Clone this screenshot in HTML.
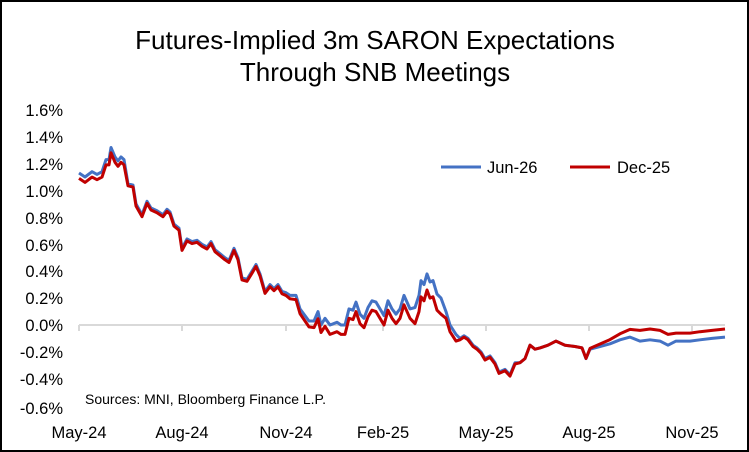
<!DOCTYPE html>
<html><head><meta charset="utf-8"><style>
html,body{margin:0;padding:0;background:#fff}
svg{display:block;font-family:"Liberation Sans",Arial,sans-serif}
</style></head><body>
<svg id="s" width="749" height="452" viewBox="0 0 749 452" xmlns="http://www.w3.org/2000/svg">
<rect x="1" y="1" width="747" height="450" fill="#fff" stroke="#000" stroke-width="2"/>
<text x="375" y="49" font-size="26" text-anchor="middle">Futures-Implied 3m SARON Expectations</text>
<text x="375" y="81" font-size="26" text-anchor="middle">Through SNB Meetings</text>
<g font-size="16.5" text-anchor="end">
<text x="63" y="116">1.6%</text><text x="63" y="143">1.4%</text><text x="63" y="170">1.2%</text>
<text x="63" y="197">1.0%</text><text x="63" y="224">0.8%</text><text x="63" y="251">0.6%</text>
<text x="63" y="277">0.4%</text><text x="63" y="304">0.2%</text><text x="63" y="331">0.0%</text>
<text x="63" y="358">-0.2%</text><text x="63" y="385">-0.4%</text><text x="63" y="414">-0.6%</text>
</g>
<line x1="79" y1="325" x2="725" y2="325" stroke="#d9d9d9" stroke-width="2"/>
<g stroke="#d9d9d9" stroke-width="2">
<line x1="79" y1="325" x2="79" y2="331"/><line x1="182" y1="325" x2="182" y2="331"/>
<line x1="286" y1="325" x2="286" y2="331"/><line x1="383" y1="325" x2="383" y2="331"/>
<line x1="486" y1="325" x2="486" y2="331"/><line x1="589" y1="325" x2="589" y2="331"/>
<line x1="692" y1="325" x2="692" y2="331"/>
</g>
<g font-size="16.5" text-anchor="middle">
<text x="79" y="438">May-24</text><text x="182" y="438">Aug-24</text><text x="286" y="438">Nov-24</text>
<text x="383" y="438">Feb-25</text><text x="486" y="438">May-25</text><text x="589" y="438">Aug-25</text>
<text x="692" y="438">Nov-25</text>
</g>
<text x="85" y="404" font-size="14">Sources: MNI, Bloomberg Finance L.P.</text>
<line x1="441" y1="167" x2="481" y2="167" stroke="#4472c4" stroke-width="3"/>
<text x="487" y="173" font-size="16.5">Jun-26</text>
<line x1="570" y1="167" x2="610" y2="167" stroke="#c00000" stroke-width="3"/>
<text x="617" y="173" font-size="16.5">Dec-25</text>
<polyline id="b" fill="none" stroke="#4472c4" stroke-width="3" stroke-linejoin="round"/>
<polyline id="r" fill="none" stroke="#c00000" stroke-width="3" stroke-linejoin="round"/>
</svg>
<script>
var k=[79,1.13,85,1.10,92,1.14,97,1.12,102,1.14,106,1.23,109,1.23,111,1.32,115,1.25,118,1.22,121,1.25,124,1.23,128,1.05,133,1.04,136,0.90,142,0.82,147,0.92,151,0.87,157,0.85,163,0.82,167,0.86,170,0.84,174,0.75,179,0.72,182,0.57,187,0.64,192,0.62,197,0.63,202,0.60,207,0.58,211,0.62,215,0.56,220,0.53,225,0.50,229,0.48,234,0.57,238,0.50,242,0.35,247,0.34,252,0.40,256,0.45,260,0.38,265,0.25,270,0.30,274,0.27,278,0.30,282,0.25,286,0.24,290,0.22,296,0.22,300,0.12,305,0.07,309,0.03,314,0.03,318,0.10,321,0.00,325,0.05,330,0.00,337,0.02,341,0.00,345,0.00,349,0.12,353,0.11,356,0.17,360,0.08,364,0.05,368,0.13,372,0.18,376,0.17,380,0.12,384,0.07,388,0.18,392,0.12,396,0.08,400,0.12,404,0.22,410,0.12,415,0.13,419,0.22,421,0.33,424,0.30,427,0.38,430,0.32,433,0.33,437,0.23,441,0.20,446,0.10,450,0.00,456,-0.07,460,-0.10,464,-0.08,468,-0.10,473,-0.15,477,-0.17,481,-0.20,485,-0.25,490,-0.23,495,-0.28,499,-0.35,505,-0.33,510,-0.37,515,-0.28,520,-0.28,525,-0.25,530,-0.15,535,-0.18,540,-0.17,548,-0.15,556,-0.12,565,-0.15,575,-0.16,582,-0.17,586,-0.25,590,-0.18,600,-0.16,610,-0.14,620,-0.11,630,-0.09,640,-0.12,650,-0.11,660,-0.12,668,-0.15,676,-0.12,690,-0.12,700,-0.11,712,-0.10,725,-0.09];
function off(x){
 if(x<125)return -0.04; if(x<280)return -0.015; if(x<330)return -0.015-0.05*(x-280)/50;
 if(x<415)return -0.07; if(x<445)return -0.12; if(x<460)return -0.05; if(x<520)return -0.01;
 if(x<585)return 0; if(x<640)return 0.07*(x-585)/55; if(x<670)return 0.08; return 0.06;}
var b=[],r=[];
for(var i=0;i<k.length;i+=2){var x=k[i],v=k[i+1];
 b.push(x+","+(325-v*134.5).toFixed(1));
 r.push(x+","+(325-(v+off(x))*134.5).toFixed(1));}
document.getElementById("b").setAttribute("points",b.join(" "));
document.getElementById("r").setAttribute("points",r.join(" "));
</script>
</body></html>
